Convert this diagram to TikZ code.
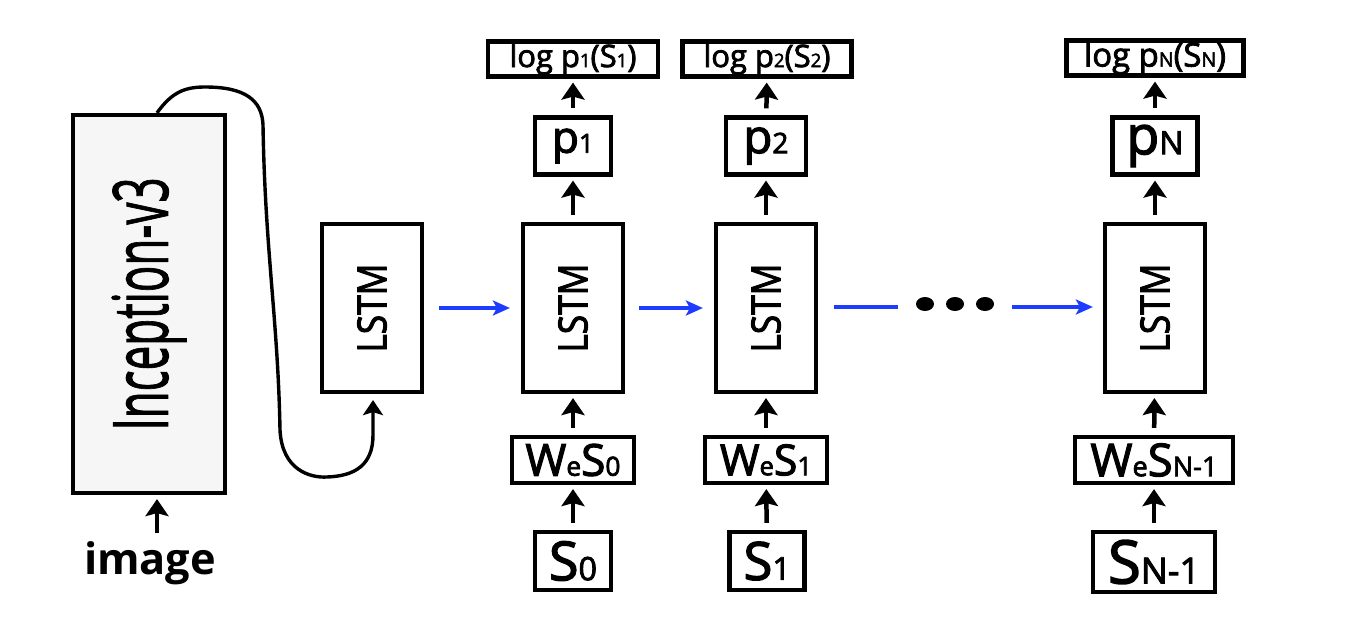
\documentclass[tikz,border=0pt]{standalone}
\usepackage{fontspec}
\setmainfont{Open Sans}[FakeBold=2.5]
\newfontfamily\imgfont{Open Sans}
\newfontfamily\incfont{Open Sans}[FakeBold=1.5]
\usetikzlibrary{arrows.meta,calc}
\definecolor{incfill}{HTML}{F6F6F6}
\definecolor{bluearr}{HTML}{1E3CFF}
\newcommand{\sbx}[1]{\scalebox{0.6}{#1}}
\newcommand{\fitw}[2]{\resizebox{#1}{!}{#2}}
\newcommand{\rotfit}[3]{\rotatebox{90}{\resizebox{#1}{#2}{#3}}}
\begin{document}
\begin{tikzpicture}[x=1pt,y=-1pt,
  box/.style={draw=black, line width=4.2pt, fill=white, inner sep=0pt, align=center},
  arr/.style={-{Stealth[length=17pt,width=23pt,inset=3pt]}, line width=4.5pt, shorten <=7pt, shorten >=4pt},
  barr/.style={-{Stealth[length=17pt,width=15pt,inset=4pt]}, line width=3.2pt, draw=bluearr},
  bline/.style={line width=3.2pt, draw=bluearr}]
\useasboundingbox (0,0) rectangle (1365,624);
\fill[white] (0,0) rectangle (1365,624);

% encoder
\node[box, fill=incfill, minimum width=152pt, minimum height=378pt] (inc) at (149,304) {\rotfit{253pt}{56pt}{\incfont Inception-v3}};
\node[inner sep=0pt] (img) at (150,563) {\fitw{132pt}{\imgfont\bfseries image}};
\coordinate (imgtop) at (157,533);

% LSTMs
\node[box, minimum width=100pt, minimum height=168pt] (l0) at (372,308) {\rotfit{89pt}{29pt}{LSTM}};
\node[box, minimum width=100pt, minimum height=168pt] (l1) at (573,308) {\rotfit{89pt}{29pt}{LSTM}};
\node[box, minimum width=100pt, minimum height=168pt] (l2) at (766,308) {\rotfit{89pt}{29pt}{LSTM}};
\node[box, minimum width=100pt, minimum height=168pt] (lN) at (1155,308) {\rotfit{89pt}{29pt}{LSTM}};

% p boxes
\node[box, minimum width=76pt, minimum height=57pt] (p1) at (573,146) {\fitw{42pt}{p\sbx{1}}};
\node[box, minimum width=80pt, minimum height=57pt] (p2) at (766,146) {\fitw{45pt}{p\sbx{2}}};
\node[box, minimum width=85pt, minimum height=57pt] (pN) at (1155,146) {\fitw{57pt}{p\sbx{N}}};

% log boxes
\node[box, minimum width=170pt, minimum height=35pt] (g1) at (573,59) {\fitw{127pt}{log p\sbx{1}(S\sbx{1})}};
\node[box, minimum width=169pt, minimum height=35pt] (g2) at (767,59) {\fitw{127pt}{log p\sbx{2}(S\sbx{2})}};
\node[box, minimum width=177pt, minimum height=35pt] (gN) at (1155,58) {\fitw{142pt}{log p\sbx{N}(S\sbx{N})}};

% W_e S boxes
\node[box, minimum width=122pt, minimum height=46pt] (w0) at (573,460) {\fitw{95pt}{W\sbx{e}S\sbx{0}}};
\node[box, minimum width=122pt, minimum height=46pt] (w1) at (766,460) {\fitw{92pt}{W\sbx{e}S\sbx{1}}};
\node[box, minimum width=158pt, minimum height=46pt] (wN) at (1154,460) {\fitw{127pt}{W\sbx{e}S\sbx{N-1}}};

% S boxes
\node[box, minimum width=76pt, minimum height=58pt] (s0) at (573,561) {\fitw{48pt}{S\sbx{0}}};
\node[box, minimum width=75pt, minimum height=58pt] (s1) at (767,561) {\fitw{47pt}{S\sbx{1}}};
\node[box, minimum width=122pt, minimum height=60pt] (sN) at (1154,562) {\fitw{92pt}{S\sbx{N-1}}};

% vertical arrows
\foreach \a/\b in {s0/w0,w0/l1,l1/p1,p1/g1,s1/w1,w1/l2,l2/p2,p2/g2,sN/wN,wN/lN,lN/pN,pN/gN}{
  \draw[arr] (\a) -- (\b);
}
\draw[arr, shorten <=0pt, shorten >=4pt] (imgtop) -- (imgtop |- inc.south);

% image feature curve
\draw[line width=3.4pt, -{Stealth[length=15pt,width=20pt,inset=3pt]}, shorten >=6pt]
  ([xshift=8pt]inc.north) .. controls (172,92) and (185,87) .. (205,87)
  .. controls (245,87) and (262,100) .. (263,125)
  .. controls (265,250) and (278,320) .. (280,430)
  .. controls (282,470) and (310,478) .. (327,477)
  .. controls (355,476) and (373,465) .. (373,435)
  -- ([xshift=1pt]l0.south);

% horizontal blue arrows
\draw[barr, shorten <=15pt, shorten >=11pt] (l0) -- (l1);
\draw[barr, shorten <=14pt, shorten >=11pt] (l1) -- (l2);
\coordinate (dl) at (898,307);
\coordinate (dr) at (1012,307);
\draw[bline, shorten <=16pt] (l2.east |- dl) -- (dl);
\fill (925,304) ellipse [x radius=9pt, y radius=7pt];
\fill (955,304) ellipse [x radius=9pt, y radius=7pt];
\fill (985,304) ellipse [x radius=9pt, y radius=7pt];
\draw[barr, shorten >=10pt] (dr) -- (lN.west |- dr);
\end{tikzpicture}
\end{document}
